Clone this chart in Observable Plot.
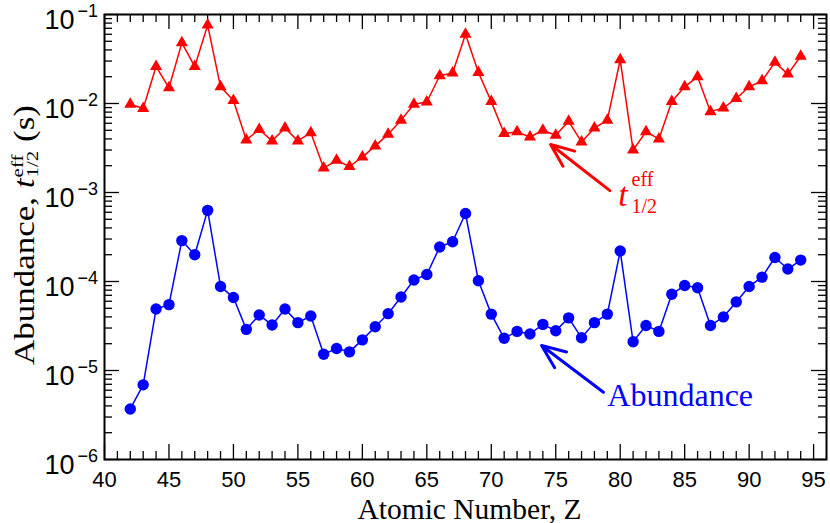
<!DOCTYPE html>
<html><head><meta charset="utf-8">
<script src="https://cdn.jsdelivr.net/npm/d3@7"></script>
<script src="https://cdn.jsdelivr.net/npm/@observablehq/plot@0.6"></script>
<style>html,body{margin:0;padding:0;background:#fff}#chart svg{display:block}</style>
</head><body><div id="chart"></div>
<script>
// ---- data ----
const atomicNumber = [42,43,44,45,46,47,48,49,50,51,52,53,54,55,56,57,58,59,60,61,62,63,64,65,66,67,68,69,70,71,72,73,74,75,76,77,78,79,80,81,82,83,84,85,86,87,88,89,90,91,92,93,94];
const halfLifeEff = [0.0098,0.0088,0.026,0.015,0.048,0.026,0.076,0.0154,0.0108,0.0039,0.0051,0.0038,0.0053,0.0038,0.0047,0.00188,0.0023,0.00196,0.0025,0.00334,0.0045,0.0065,0.0098,0.0104,0.0205,0.022,0.060,0.0223,0.0105,0.0046,0.0048,0.0042,0.0050,0.0044,0.0063,0.0037,0.0053,0.0065,0.031,0.0030,0.0048,0.0040,0.0105,0.0154,0.020,0.0081,0.0089,0.0114,0.0154,0.018,0.029,0.0214,0.034];
const abundance = [3.7e-6,6.9e-6,4.9e-5,5.5e-5,2.88e-4,2.0e-4,6.3e-4,8.8e-5,6.6e-5,2.9e-5,4.2e-5,3.25e-5,4.9e-5,3.45e-5,4.1e-5,1.52e-5,1.77e-5,1.62e-5,2.21e-5,3.1e-5,4.35e-5,6.7e-5,1.04e-4,1.2e-4,2.44e-4,2.8e-4,5.8e-4,1.02e-4,4.3e-5,2.3e-5,2.75e-5,2.57e-5,3.3e-5,2.8e-5,3.9e-5,2.33e-5,3.45e-5,4.3e-5,2.2e-4,2.1e-5,3.2e-5,2.75e-5,7.2e-5,9.0e-5,8.5e-5,3.2e-5,4.0e-5,5.9e-5,8.8e-5,1.12e-4,1.86e-4,1.38e-4,1.74e-4];

const xTickLabels = [40,45,50,55,60,65,70,75,80,85,90,95];
const xMinorTicks = [41,42,43,44,46,47,48,49,51,52,53,54,56,57,58,59,61,62,63,64,66,67,68,69,71,72,73,74,76,77,78,79,81,82,83,84,86,87,88,89,91,92,93,94];
const yExponents = [-6,-5,-4,-3,-2,-1];
const yMinorMultipliers = [2,3,4,5,6,7,8,9];

// annotation anchors (data coordinates)
const redArrow = [{x1: 79.2, y1: 1.05e-3, x2: 74.6, y2: 3.46e-3}];
const blueArrow = [{x1: 78.7, y1: 5.7e-6, x2: 73.9, y2: 1.91e-5}];
const halfLifeLabel = [{x: 79.84, y: 7.1e-4, text: "t"}];
const abundanceLabel = [{x: 79.0, y: 4.04e-6, text: "Abundance"}];

// ---- derived tables ----
const rows = atomicNumber.map((z, i) => ({z, t: halfLifeEff[i], a: abundance[i]}));
const yMajor = yExponents.map(e => Math.pow(10, e));
const yMinor = yExponents.slice(0, -1).flatMap(e => yMinorMultipliers.map(m => m * Math.pow(10, e)));

const W = 830, H = 523, mL = 104, mR = 4, mT = 14, mB = 64;
const pw = W - mL - mR, ph = H - mT - mB;
const majorLen = 15, minorLen = 8;
const serif = "'Liberation Serif', 'Times New Roman', serif";
const sans = "'Liberation Sans', Arial, Helvetica, sans-serif";
const tk = {stroke: "black", strokeWidth: 1.3};

const plot = Plot.plot({
  width: W, height: H,
  marginLeft: mL, marginRight: mR, marginTop: mT, marginBottom: mB,
  style: {fontFamily: sans, fontSize: "22px", background: "white", overflow: "visible"},
  x: {domain: [40, 96], axis: null},
  y: {type: "log", domain: [1e-6, 1e-1], axis: null},
  marks: [
    // inward ticks on all four sides
    Plot.ruleX(xTickLabels, {x: d => d, insetTop: ph - majorLen, ...tk}),
    Plot.ruleX(xTickLabels, {x: d => d, insetBottom: ph - majorLen, ...tk}),
    Plot.ruleX(xMinorTicks, {x: d => d, insetTop: ph - minorLen, ...tk}),
    Plot.ruleX(xMinorTicks, {x: d => d, insetBottom: ph - minorLen, ...tk}),
    Plot.ruleY(yMajor, {y: d => d, insetRight: pw - majorLen, ...tk}),
    Plot.ruleY(yMajor, {y: d => d, insetLeft: pw - majorLen, ...tk}),
    Plot.ruleY(yMinor, {y: d => d, insetRight: pw - minorLen, ...tk}),
    Plot.ruleY(yMinor, {y: d => d, insetLeft: pw - minorLen, ...tk}),
    Plot.frame({stroke: "black", strokeWidth: 2}),
    // x tick labels
    Plot.text(xTickLabels, {x: d => d, frameAnchor: "bottom", text: d => String(d), lineAnchor: "top", dy: 12, fontSize: 22, fill: "black"}),
    // y tick labels: "10" and exponent
    Plot.text(yMajor, {y: d => d, frameAnchor: "left", text: () => "10", textAnchor: "end", lineAnchor: "bottom", dx: -30, dy: 14, fontSize: 27, fill: "black"}),
    Plot.text(yExponents, {y: e => Math.pow(10, e), frameAnchor: "left", text: e => "\u2212" + Math.abs(e), textAnchor: "start", lineAnchor: "bottom", dx: -27, dy: 2, fontSize: 18, fill: "black"}),
    // axis titles
    Plot.text(["Atomic Number, Z"], {frameAnchor: "bottom", text: d => d, lineAnchor: "bottom", dy: 59, dx: 4, fontFamily: serif, fontSize: 29.5, fill: "black"}),
    Plot.text(["Abundance,"], {frameAnchor: "left", text: d => d, rotate: -90, lineAnchor: "bottom", textAnchor: "middle", dx: -71, dy: -2, fontFamily: serif, fontSize: 35, fill: "black", ariaDescription: "ylab"}),
    // series
    Plot.line(rows, {x: "z", y: "t", stroke: "#ff0000", strokeWidth: 1.5}),
    Plot.dot(rows, {x: "z", y: "t", symbol: "triangle", r: 4.5, fill: "#ff0000", stroke: "none"}),
    Plot.line(rows, {x: "z", y: "a", stroke: "#0000ff", strokeWidth: 1.5}),
    Plot.dot(rows, {x: "z", y: "a", symbol: "circle", r: 5.7, fill: "#0000ff", stroke: "none"}),
    // annotations
    Plot.arrow(redArrow, {x1: "x1", y1: "y1", x2: "x2", y2: "y2", stroke: "#ff0000", strokeWidth: 3, headLength: 22, headAngle: 45}),
    Plot.arrow(blueArrow, {x1: "x1", y1: "y1", x2: "x2", y2: "y2", stroke: "#0000ff", strokeWidth: 3, headLength: 22, headAngle: 45}),
    Plot.text(halfLifeLabel, {x: "x", y: "y", text: "text", textAnchor: "start", lineAnchor: "bottom", fontFamily: serif, fontSize: 34, fill: "#ff0000", ariaDescription: "tlab"}),
    Plot.text(abundanceLabel, {x: "x", y: "y", text: "text", textAnchor: "start", lineAnchor: "bottom", fontFamily: serif, fontSize: 32, fill: "#0000ff"})
  ]
});

const svg = d3.select(plot);

// y-axis title with sub/superscripts
const yl = svg.select('g[aria-description="ylab"] text');
yl.text(null);
yl.append("tspan").text("Abundance, ");
yl.append("tspan").attr("font-style", "italic").text("t");
yl.append("tspan").attr("font-size", 21).attr("dy", -12).attr("dx", 1).text("eff");
yl.append("tspan").attr("font-size", 21).attr("dx", -23).attr("dy", 17).text("1/2");
yl.append("tspan").attr("dy", -5).text(" (s)");
const tr = yl.attr("transform");
if (tr && tr.includes("rotate")) yl.attr("transform", tr + " scale(1,0.84)");

// t^eff_{1/2} label
const tl = svg.select('g[aria-description="tlab"] text');
tl.text(null);
tl.append("tspan").attr("font-style", "italic").text("t");
tl.append("tspan").attr("font-size", 20).attr("dx", 4).attr("dy", -20).text("eff");
tl.append("tspan").attr("font-size", 20).attr("dx", -22).attr("dy", 27).text("1/2");

document.getElementById("chart").append(plot);
</script>
</body></html>
